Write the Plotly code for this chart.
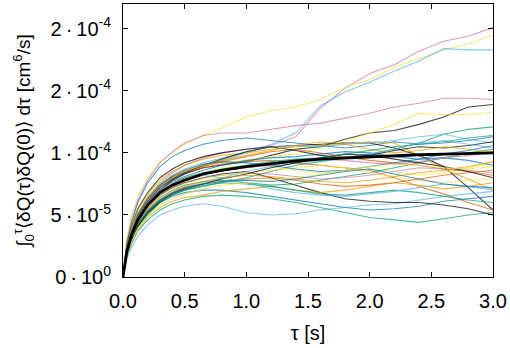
import plotly.graph_objects as go

# time grid [s]
t = [0, 0.03, 0.07, 0.12, 0.2, 0.3, 0.4, 0.5, 0.65, 0.8, 1.0, 1.2, 1.4, 1.6, 1.8, 2.0, 2.2, 2.4, 2.6, 2.8, 3.0]

# individual trajectories, in units of 1e-5 cm^6/s
run01 = [0, 2.3, 3.8, 5.1, 6.4, 7.6, 8.4, 9.0, 9.6, 10.0, 10.3, 10.6, 11.3, 13.6, 15.2, 16.4, 17.1, 18.2, 19.0, 19.4, 20.1]
run02 = [0, 3.0, 5.0, 6.5, 8.0, 9.3, 10.0, 10.7, 11.4, 12.0, 12.9, 13.4, 13.7, 14.3, 15.3, 15.9, 16.9, 17.6, 18.3, 18.8, 19.5]
run03 = [0, 2.2, 3.6, 4.9, 6.0, 7.1, 7.8, 8.3, 8.9, 9.4, 10.0, 10.7, 11.6, 13.8, 14.9, 15.7, 16.6, 17.4, 18.4, 18.3, 18.3]
run04 = [0, 2.8, 4.6, 6.2, 7.8, 9.2, 10.1, 10.8, 11.4, 11.6, 11.6, 11.9, 12.2, 12.4, 12.8, 13.2, 13.7, 14.0, 14.4, 14.4, 14.3]
run05 = [0, 2.0, 3.4, 4.6, 5.8, 7.0, 7.8, 8.3, 8.8, 9.0, 9.3, 9.8, 10.3, 10.5, 11.1, 11.6, 11.8, 12.3, 12.9, 13.7, 13.9]
run06 = [0, 2.4, 4.0, 5.4, 6.6, 7.6, 8.2, 8.6, 9.0, 9.2, 9.4, 9.7, 9.9, 10.4, 10.9, 11.6, 12.3, 13.2, 13.1, 13.1, 13.3]
run07 = [0, 1.8, 3.0, 4.0, 5.0, 6.0, 6.6, 7.0, 7.3, 7.6, 8.0, 8.5, 9.0, 9.3, 9.6, 9.9, 10.3, 10.8, 11.5, 11.9, 12.1]
run08 = [0, 2.6, 4.4, 6.0, 7.6, 8.9, 9.7, 10.2, 10.7, 11.0, 11.2, 11.0, 10.8, 10.6, 10.4, 10.6, 10.9, 10.7, 10.8, 11.0, 11.3]
run09 = [0, 2.5, 4.1, 5.5, 6.8, 8.0, 8.7, 9.2, 9.7, 10.0, 10.3, 10.5, 10.6, 10.7, 10.8, 10.8, 10.4, 9.8, 8.9, 7.2, 5.4]
run10 = [0, 2.2, 3.7, 5.0, 6.2, 7.3, 8.0, 8.4, 8.8, 9.1, 9.3, 9.4, 9.2, 9.0, 8.8, 8.6, 8.0, 7.3, 6.7, 6.0, 5.4]
run11 = [0, 2.4, 4.0, 5.4, 6.7, 7.8, 8.5, 9.0, 9.5, 9.8, 10.0, 10.3, 10.5, 10.6, 10.7, 10.9, 10.8, 9.8, 8.7, 7.9, 7.0]
run12 = [0, 1.6, 2.7, 3.7, 4.6, 5.4, 5.9, 6.2, 6.5, 6.6, 6.5, 6.3, 6.0, 5.6, 5.2, 4.8, 4.6, 4.4, 4.7, 5.0, 5.2]
run13 = [0, 1.4, 2.4, 3.3, 4.2, 5.0, 5.4, 5.7, 5.9, 5.7, 5.2, 5.0, 5.1, 5.4, 5.6, 5.8, 5.9, 6.2, 6.5, 6.7, 6.9]
run14 = [0, 1.8, 3.0, 4.1, 5.1, 6.0, 6.5, 6.8, 7.0, 7.0, 6.8, 6.5, 6.2, 5.9, 5.6, 5.4, 5.5, 5.7, 6.1, 6.3, 6.5]
run15 = [0, 2.0, 3.3, 4.5, 5.6, 6.6, 7.2, 7.6, 8.0, 8.3, 8.5, 8.0, 7.4, 6.8, 6.3, 6.1, 6.0, 6.0, 5.8, 5.5, 5.0]
run16 = [0, 1.7, 2.8, 3.8, 4.8, 5.6, 6.1, 6.4, 6.6, 6.9, 7.1, 7.3, 7.0, 6.8, 7.0, 7.3, 7.6, 7.4, 7.1, 7.3, 7.6]
run17 = [0, 2.1, 3.5, 4.7, 5.9, 6.9, 7.5, 7.9, 8.4, 8.8, 9.0, 8.9, 8.6, 8.4, 8.5, 8.7, 8.5, 8.2, 8.4, 8.8, 9.2]
run18 = [0, 2.3, 3.8, 5.1, 6.4, 7.5, 8.2, 8.7, 9.2, 9.6, 10.1, 10.5, 10.6, 10.5, 10.7, 10.8, 11.0, 11.3, 11.5, 11.1, 10.8]
run19 = [0, 1.9, 3.2, 4.3, 5.4, 6.4, 7.0, 7.4, 7.7, 7.8, 7.6, 7.4, 7.5, 7.8, 8.1, 8.4, 8.8, 9.2, 9.6, 10.0, 10.3]
run20 = [0, 2.3, 3.8, 5.1, 6.3, 7.4, 8.1, 8.5, 8.9, 9.3, 9.7, 10.1, 10.3, 10.0, 9.7, 9.4, 9.2, 9.0, 8.7, 8.5, 8.2]
run21 = [0, 2.0, 3.3, 4.5, 5.6, 6.6, 7.2, 7.6, 8.0, 8.2, 8.4, 8.3, 8.1, 7.9, 8.0, 8.2, 8.5, 8.8, 8.7, 8.6, 8.4]
run22 = [0, 2.1, 3.5, 4.8, 6.0, 7.0, 7.7, 8.1, 8.6, 9.0, 9.4, 9.6, 9.7, 9.9, 10.1, 10.0, 9.7, 9.5, 9.6, 9.4, 9.0]
run23 = [0, 2.2, 3.6, 4.9, 6.1, 7.2, 7.9, 8.4, 9.0, 9.5, 10.1, 10.5, 10.2, 9.8, 9.6, 9.8, 10.2, 10.5, 10.4, 10.6, 10.9]
run24 = [0, 2.2, 3.7, 5.0, 6.2, 7.3, 8.0, 8.5, 9.0, 9.4, 9.8, 10.2, 10.6, 10.9, 10.7, 10.3, 10.0, 10.2, 10.5, 10.3, 10.1]
run25 = [0, 1.9, 3.2, 4.3, 5.3, 6.2, 6.8, 7.2, 7.6, 8.0, 8.5, 8.9, 9.2, 9.4, 9.6, 9.9, 10.3, 10.8, 11.0, 10.7, 10.4]
run26 = [0, 1.8, 3.0, 4.1, 5.1, 6.0, 6.6, 7.0, 7.4, 7.6, 7.5, 7.3, 7.0, 6.7, 6.6, 6.8, 7.0, 6.8, 6.5, 6.2, 6.0]
run27 = [0, 2.0, 3.3, 4.5, 5.6, 6.5, 7.1, 7.5, 7.9, 8.2, 8.4, 8.6, 8.8, 9.0, 8.8, 8.4, 8.1, 7.8, 7.6, 7.8, 7.9]
run28 = [0, 2.2, 3.7, 5.0, 6.3, 7.4, 8.1, 8.6, 9.1, 9.3, 9.2, 9.0, 8.7, 8.5, 8.6, 8.9, 9.2, 9.5, 9.9, 10.2, 10.6]
run29 = [0, 1.9, 3.1, 4.2, 5.3, 6.2, 6.8, 7.2, 7.5, 7.7, 7.9, 8.0, 7.8, 7.5, 7.3, 7.4, 7.6, 7.9, 8.2, 8.4, 8.6]
run30 = [0, 2.1, 3.5, 4.8, 6.0, 7.0, 7.6, 8.0, 8.4, 8.6, 8.8, 9.0, 9.3, 9.5, 9.4, 9.2, 9.1, 9.3, 9.6, 9.8, 10.0]
run31 = [0, 1.8, 3.0, 4.1, 5.2, 6.1, 6.7, 7.1, 7.5, 7.9, 8.3, 8.8, 9.2, 9.6, 9.9, 9.8, 9.5, 9.2, 8.9, 8.5, 8.0]
run32 = [0, 1.9, 3.2, 4.3, 5.4, 6.3, 6.9, 7.3, 7.7, 8.0, 8.2, 8.1, 7.9, 7.7, 7.6, 7.8, 8.1, 8.4, 8.6, 8.9, 9.3]
run33 = [0, 2.0, 3.4, 4.6, 5.8, 6.8, 7.4, 7.8, 8.2, 8.0, 7.6, 7.1, 6.8, 6.6, 6.5, 6.7, 6.9, 7.2, 7.5, 7.3, 7.0]
run34 = [0, 2.1, 3.5, 4.7, 5.9, 6.9, 7.5, 8.0, 8.4, 8.7, 9.0, 9.3, 9.5, 9.6, 9.9, 10.2, 10.5, 10.7, 10.9, 11.2, 11.4]
run35 = [0, 1.7, 2.9, 3.9, 4.9, 5.8, 6.3, 6.7, 7.1, 7.4, 7.6, 7.8, 8.0, 8.3, 8.6, 8.9, 9.1, 9.0, 8.8, 8.7, 8.9]
run36 = [0, 1.9, 3.1, 4.3, 5.3, 6.2, 6.8, 7.2, 7.5, 7.7, 7.8, 7.7, 7.9, 8.2, 8.5, 8.7, 8.3, 7.9, 7.5, 7.3, 7.2]

# ensemble average (thick black)
mean_curve = [0, 2.0, 3.4, 4.6, 5.8, 6.8, 7.4, 7.8, 8.3, 8.6, 8.9, 9.15, 9.35, 9.5, 9.6, 9.7, 9.8, 9.85, 9.9, 9.95, 10.0]

runs = [run01, run02, run03, run04, run05, run06, run07, run08, run09, run10, run11, run12,
        run13, run14, run15, run16, run17, run18, run19, run20, run21, run22, run23, run24,
        run25, run26, run27, run28, run29, run30, run31, run32, run33, run34, run35, run36]
run_colors = ["#CC79A7", "#F0E442", "#56B4E9", "#CC79A7", "#000000", "#F0E442", "#009E73", "#0072B2",
              "#000000", "#D55E00", "#E69F00", "#009E73", "#56B4E9", "#0072B2", "#000000", "#E69F00",
              "#F0E442", "#56B4E9", "#009E73", "#D55E00", "#CC79A7", "#0072B2", "#000000", "#E69F00",
              "#56B4E9", "#009E73", "#F0E442", "#0072B2", "#D55E00", "#CC79A7", "#000000", "#E69F00",
              "#56B4E9", "#009E73", "#F0E442", "#0072B2"]

scale = 1e-5
y_tickvals = [0, 5e-5, 1e-4, 1.5e-4, 2e-4]
y_ticktext = ["0\u2009·\u200910<sup>0</sup>", "5\u2009·\u200910<sup>-5</sup>", "1\u2009·\u200910<sup>-4</sup>",
              "2\u2009·\u200910<sup>-4</sup>", "2\u2009·\u200910<sup>-4</sup>"]
x_tickvals = [0, 0.5, 1.0, 1.5, 2.0, 2.5, 3.0]
x_ticktext = ["0.0", "0.5", "1.0", "1.5", "2.0", "2.5", "3.0"]

fig = go.Figure()
for r, c in zip(runs, run_colors):
    fig.add_trace(go.Scatter(x=t, y=[v * scale for v in r], mode="lines",
                             line=dict(color=c, width=1.1), opacity=0.7,
                             showlegend=False, hoverinfo="skip"))
fig.add_trace(go.Scatter(x=t, y=[v * scale for v in mean_curve], mode="lines",
                         line=dict(color="#000000", width=2.8), showlegend=False))

font_family = "Liberation Sans, Arial, sans-serif"
fig.update_layout(
    width=510, height=348,
    margin=dict(l=123, r=17, t=4, b=71),
    paper_bgcolor="white", plot_bgcolor="white",
    font=dict(family=font_family, color="black", size=20),
)
fig.update_xaxes(range=[0, 3.0], tickvals=x_tickvals, ticktext=x_ticktext,
                 ticks="inside", ticklen=5, tickcolor="black", showline=True, linecolor="black",
                 linewidth=1, mirror="ticks", showgrid=False, zeroline=False,
                 tickfont=dict(size=20), ticklabelstandoff=6,
                 title=dict(text="τ [s]", font=dict(size=20), standoff=14))
fig.update_yaxes(range=[0, 2.2e-4], tickvals=y_tickvals, ticktext=y_ticktext,
                 ticks="inside", ticklen=5, tickcolor="black", showline=True, linecolor="black",
                 linewidth=1, mirror="ticks", showgrid=False, zeroline=False,
                 tickfont=dict(size=20), ticklabelstandoff=7,
                 title=dict(text="∫<sub>0</sub><sup>τ</sup>⟨δQ(τ)δQ(0)⟩ dτ [cm<sup>6</sup>/s]",
                            font=dict(size=19), standoff=14))

fig.write_html("out.html", config={"displayModeBar": False},
               post_script="document.body.style.margin='0';")
